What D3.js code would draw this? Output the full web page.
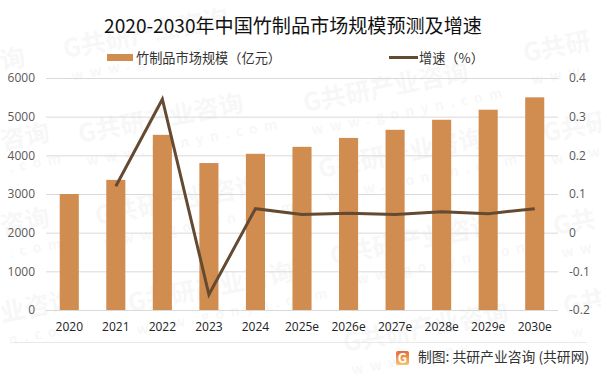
<!DOCTYPE html>
<meta charset="utf-8">
<style>
    html, body { margin: 0; background: #fff; }
    svg { display: block; }
    text { font-family: "Noto Sans CJK SC", "Noto Sans", sans-serif; }
    .axis path { display: none; }
    .axis--x line, .axis--y2 line { display: none; }
    .axis--y text, .axis--y2 text { fill: #595959; font-size: 12px; font-family: "Open Sans", "Noto Sans", sans-serif; }
    .axis--x text { fill: #222; font-size: 12px; font-family: "Open Sans", "Noto Sans", sans-serif; }
    .grid line { stroke: #d9d9d9; stroke-width: 1px; }
    .grid path { display: none; }
    .bar { fill: #d18d50; }
    .line { fill: none; stroke: #654a32; stroke-width: 3px; stroke-linejoin: miter; }
    .wm { fill: #000; opacity: 0.028; font-weight: 700; }
</style>
<svg width="601" height="374"></svg>
<script src="https://d3js.org/d3.v7.min.js"></script>
<script>
    var years = ["2020", "2021", "2022", "2023", "2024", "2025e", "2026e", "2027e", "2028e", "2029e", "2030e"];
    var market = [3000, 3365, 4530, 3800, 4040, 4220, 4450, 4660, 4920, 5180, 5500];
    var growthYears = years.slice(1);
    var growth = [0.12, 0.345, -0.16, 0.062, 0.047, 0.05, 0.047, 0.054, 0.049, 0.062];
    var leftTicks = [0, 1000, 2000, 3000, 4000, 5000, 6000];
    var rightTicks = [-0.2, -0.1, 0, 0.1, 0.2, 0.3, 0.4];
    var marketName = "竹制品市场规模（亿元）";
    var growthName = "增速（%）";

    var svg = d3.select("svg"),
        margin = { top: 78, right: 43, bottom: 64, left: 46 },
        width = +svg.attr("width") - margin.left - margin.right,
        height = +svg.attr("height") - margin.top - margin.bottom;

    // faint watermark, drawn first so the chart sits on top
    // x, y, big text, small text (the ones at the edge only show what fits)
    var marks = [
        [65, 58, "G共研产业咨询", "www.gonyn"], [305, 112, "G共研产业咨询", "www.gonyn.com"], [525, 62, "G共研", "www"],
        [2, 70, "询", ""], [80, 143, "G共研产业咨询", "www.gonyn.com"], [320, 178, "G共研产业咨询", "www.gonyn.com"],
        [545, 142, "G共研", "www"], [2, 150, "咨询", ".com"], [97, 225, "G共研产业咨询", "www.gonyn.com"],
        [332, 265, "G共研产业咨询", "www.gonyn.com"], [555, 235, "G共", "ww"], [2, 235, "咨询", ".com"],
        [130, 312, "G共研产业咨询", "www.gonyn.com"], [345, 352, "G共研产业咨询", "www.gony"], [565, 315, "G共", "w"],
        [2, 322, "业咨询", "n.com"]
    ];
    var wm = svg.append("g").selectAll("g").data(marks).enter().append("g")
        .attr("transform", function (d) { return "translate(" + d[0] + "," + d[1] + ") rotate(-11)"; });
    wm.append("text").attr("class", "wm").attr("font-size", 25).text(function (d) { return d[2]; });
    wm.append("text").attr("class", "wm").attr("font-size", 14).attr("x", 3).attr("y", 24)
        .attr("letter-spacing", "6.5px").text(function (d) { return d[3]; });

    var g = svg.append("g")
        .attr("transform", "translate(" + margin.left + "," + margin.top + ")");

    var x = d3.scaleBand().domain(years).range([0, width]).paddingInner(0.59).paddingOuter(0.295);
    var y = d3.scaleLinear().domain([0, 6000]).range([height, 0]);
    var y2 = d3.scaleLinear().domain([-0.2, 0.4]).range([height, 0]);

    // gridlines
    g.append("g")
        .attr("class", "grid")
        .call(d3.axisLeft(y).tickValues(leftTicks).tickSize(-width).tickFormat(""));

    g.append("g")
        .attr("class", "axis axis--y")
        .call(d3.axisLeft(y).tickValues(leftTicks).tickSize(0).tickPadding(11).tickFormat(d3.format("d")));

    g.append("g")
        .attr("class", "axis axis--y2")
        .attr("transform", "translate(" + width + ",0)")
        .call(d3.axisRight(y2).tickValues(rightTicks).tickSize(0).tickPadding(11).tickFormat(function (d) { return String(d); }));

    g.append("g")
        .attr("class", "axis axis--x")
        .attr("transform", "translate(0," + height + ")")
        .call(d3.axisBottom(x).tickSize(0).tickPadding(12));

    // bars
    g.selectAll(".bar")
        .data(market)
        .enter().append("rect")
        .attr("class", "bar")
        .attr("x", function (d, i) { return x(years[i]); })
        .attr("y", function (d) { return y(d); })
        .attr("width", x.bandwidth())
        .attr("height", function (d) { return height - y(d); });

    // growth line
    var line = d3.line()
        .x(function (d, i) { return x(growthYears[i]) + x.bandwidth() / 2; })
        .y(function (d) { return y2(d); });

    g.append("path")
        .datum(growth)
        .attr("class", "line")
        .attr("d", line);

    // title
    svg.append("text")
        .attr("x", 293).attr("y", 33)
        .attr("text-anchor", "middle")
        .attr("font-size", 19.1)
        .attr("fill", "#111")
        .text("2020-2030年中国竹制品市场规模预测及增速");

    // legend
    svg.append("rect").attr("class", "bar").attr("x", 107).attr("y", 54).attr("width", 26).attr("height", 7);
    svg.append("text").attr("x", 136).attr("y", 63).attr("font-size", 13.2).attr("fill", "#333").text(marketName);
    svg.append("line").attr("x1", 389).attr("x2", 418).attr("y1", 57.5).attr("y2", 57.5)
        .attr("stroke", "#654a32").attr("stroke-width", 3);
    svg.append("text").attr("x", 419).attr("y", 63).attr("font-size", 13.2).attr("fill", "#333").text(growthName);

    // footer
    svg.append("line").attr("x1", 13).attr("x2", 587).attr("y1", 342.5).attr("y2", 342.5).attr("stroke", "#e8e8e8");
    var defs = svg.append("defs").append("linearGradient").attr("id", "logo").attr("x2", 0).attr("y2", 1);
    defs.append("stop").attr("offset", 0).attr("stop-color", "#e8673a");
    defs.append("stop").attr("offset", 1).attr("stop-color", "#f6c667");
    svg.append("rect").attr("x", 396).attr("y", 351).attr("width", 13).attr("height", 14).attr("rx", 2).attr("fill", "url(#logo)");
    svg.append("text").attr("x", 402.5).attr("y", 363).attr("text-anchor", "middle").attr("font-size", 13)
        .attr("font-weight", 700).attr("fill", "#fff").text("G");
    svg.append("text").attr("x", 418).attr("y", 362).attr("font-size", 13.8).attr("fill", "#333")
        .text("制图: 共研产业咨询 (共研网)");
</script>
